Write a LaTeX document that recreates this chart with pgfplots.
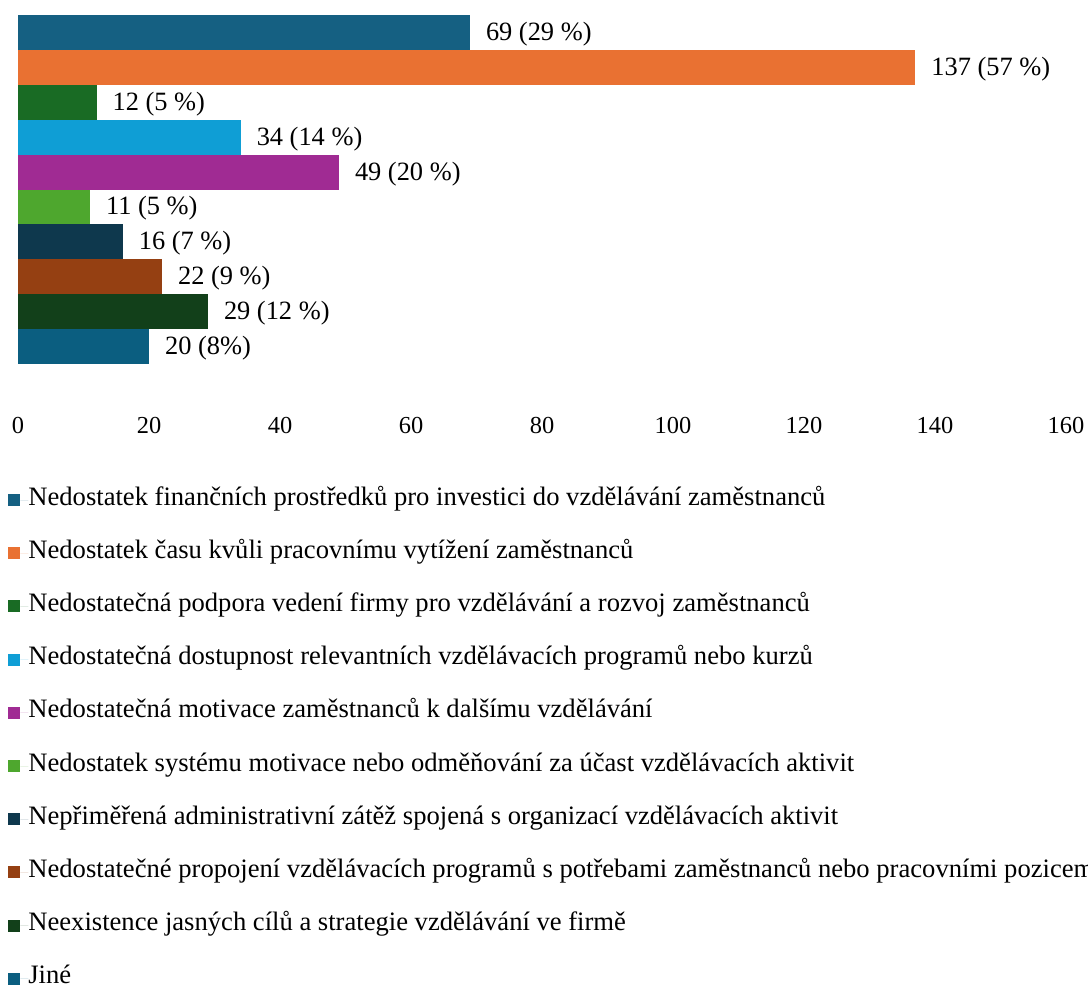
\documentclass[border=0pt]{standalone}
\usepackage{fontspec}
\setmainfont{Liberation Serif}
\usepackage{pgfplots}
\pgfplotsset{compat=1.18}

\definecolor{c1}{HTML}{156082}
\definecolor{c2}{HTML}{E97132}
\definecolor{c3}{HTML}{196B24}
\definecolor{c4}{HTML}{0F9ED5}
\definecolor{c5}{HTML}{A02B93}
\definecolor{c6}{HTML}{4EA72E}
\definecolor{c7}{HTML}{0E384D}
\definecolor{c8}{HTML}{954012}
\definecolor{c9}{HTML}{12401A}
\definecolor{c10}{HTML}{0B5E80}

\begin{document}
\begin{tikzpicture}
\begin{axis}[
    xbar,
    bar shift=0pt,
    bar width=1,
    scale only axis,
    width=524pt, height=205pt,
    xmin=0, xmax=160,
    ymin=-0.817, ymax=10.931,
    xtick={0,20,...,160},
    ytick=\empty,
    major tick length=0pt,
    axis line style={draw=none},
    font=\fontsize{12.2}{14}\selectfont,
    /pgf/number format/assume math mode=true,
    nodes near coords,
    nodes near coords align={horizontal},
    point meta=explicit symbolic,
    every node near coord/.append style={anchor=west, xshift=4.5pt, yshift=-0.8pt, font=\fontsize{13.2}{15}\selectfont, text=black},
    legend style={at={(axis description cs:0,0)}, anchor=north west,
        xshift=-5pt, yshift=-39.3pt, draw=none, fill=none,
        row sep=15.6pt, inner sep=0pt,
        nodes={inner sep=0pt, text height=8pt, text depth=3pt},
        font=\fontsize{13.3}{15}\selectfont},
    legend cell align=left,
    legend image code/.code={\fill[#1] (0pt,-3pt) rectangle (6pt,3pt); \path (6pt,0) -- (10pt,0);},
]
\addplot[fill=c1, draw=none] coordinates {(69,10) [69 (29 \%)]};
\addplot[fill=c2, draw=none] coordinates {(137,9) [137 (57 \%)]};
\addplot[fill=c3, draw=none] coordinates {(12,8) [12 (5 \%)]};
\addplot[fill=c4, draw=none] coordinates {(34,7) [34 (14 \%)]};
\addplot[fill=c5, draw=none] coordinates {(49,6) [49 (20 \%)]};
\addplot[fill=c6, draw=none] coordinates {(11,5) [11 (5 \%)]};
\addplot[fill=c7, draw=none] coordinates {(16,4) [16 (7 \%)]};
\addplot[fill=c8, draw=none] coordinates {(22,3) [22 (9 \%)]};
\addplot[fill=c9, draw=none] coordinates {(29,2) [29 (12 \%)]};
\addplot[fill=c10, draw=none] coordinates {(20,1) [20 (8\%)]};
\legend{
Nedostatek finančních prostředků pro investici do vzdělávání zaměstnanců,
Nedostatek času kvůli pracovnímu vytížení zaměstnanců,
Nedostatečná podpora vedení firmy pro vzdělávání a rozvoj zaměstnanců,
Nedostatečná dostupnost relevantních vzdělávacích programů nebo kurzů,
Nedostatečná motivace zaměstnanců k dalšímu vzdělávání,
Nedostatek systému motivace nebo odměňování za účast vzdělávacích aktivit,
Nepřiměřená administrativní zátěž spojená s organizací vzdělávacích aktivit,
Nedostatečné propojení vzdělávacích programů s potřebami zaměstnanců nebo pracovními pozicemi,
Neexistence jasných cílů a strategie vzdělávání ve firmě,
Jiné}
\end{axis}
\pgfresetboundingbox
\path[use as bounding box] ([xshift=-9pt]current axis.north west) rectangle ++(544pt,-493.5pt);
\end{tikzpicture}
\end{document}
